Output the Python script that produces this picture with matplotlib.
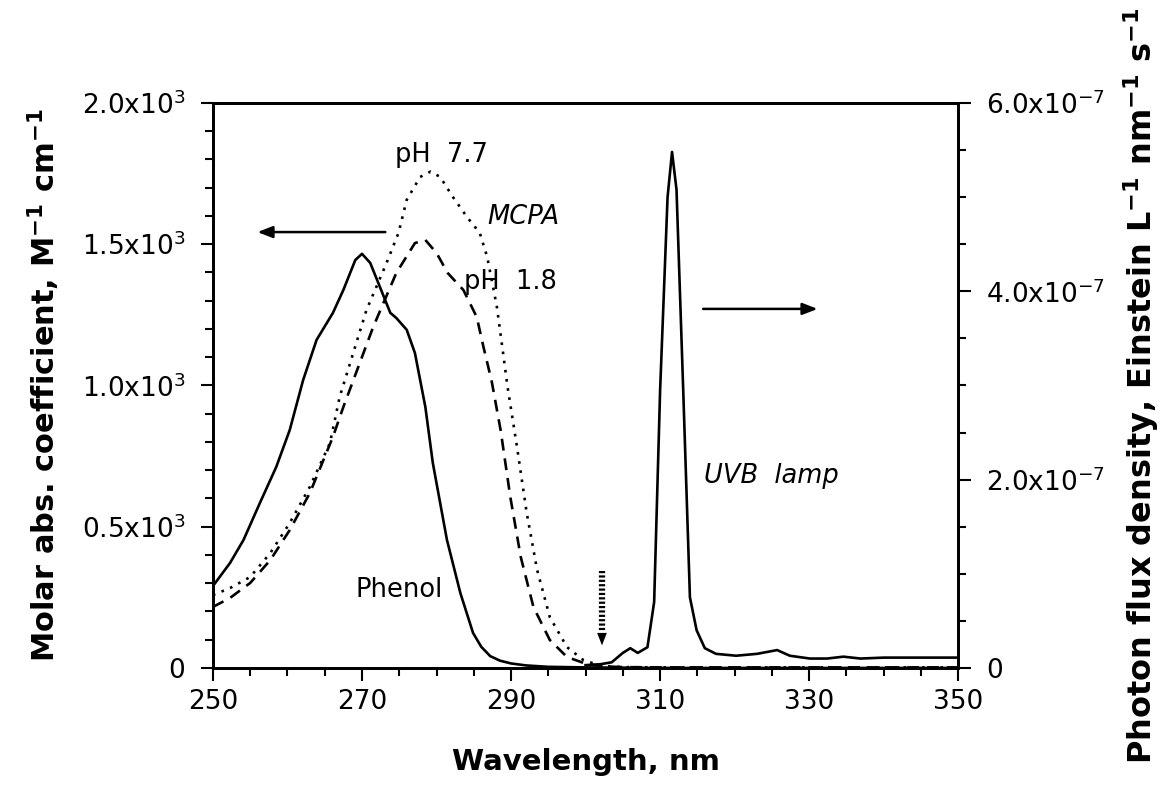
import matplotlib.pyplot as plt
from matplotlib.ticker import MultipleLocator

plt.rcParams['font.family'] = ['DejaVu Sans']

# Phenol (solid), molar absorption coefficient, M-1 cm-1
phenol_nm = [250, 252.3, 254.1, 256.3, 258.5, 260.3, 262.1, 263.9, 266.1, 267.5, 269.1,
             270, 271.1, 272.4, 273.8, 274.6, 276, 277.1, 278.5, 279.5, 281.4, 283.2,
             284.9, 286, 287.2, 288.5, 290, 292, 295, 300, 305, 310, 320, 330, 340, 350]
phenol_eps = [290, 372, 453, 584, 712, 842, 1019, 1161, 1257, 1338, 1444,
              1466, 1434, 1349, 1257, 1239, 1197, 1115, 924, 726, 453, 265,
              124, 75, 42, 26, 16, 9, 4, 2, 1, 0, 0, 0, 0, 0]

# MCPA pH 7.7 (dotted)
mcpa77_nm = [250, 252.3, 255, 257.7, 260.3, 263, 265.7, 267, 270.6, 273.3, 274.9, 276,
             277.8, 279.2, 280.5, 282.2, 284.1, 285.8, 286.8, 288.1, 289, 289.5, 290.8,
             292.1, 293.5, 295.2, 297.5, 299.7, 302, 305, 310, 320, 330, 340, 350]
mcpa77_eps = [258, 283, 322, 407, 513, 641, 796, 959, 1267, 1434, 1540, 1657,
              1738, 1757, 1738, 1667, 1596, 1540, 1455, 1278, 1101, 1000, 782,
              549, 347, 180, 74, 28, 8, 3, 2, 2, 2, 2, 2]

# MCPA pH 1.8 (dashed)
mcpa18_nm = [250, 252.3, 255, 257.7, 260.3, 263, 266.1, 267.5, 271.5, 274.6, 277.1,
             278.5, 280, 281.5, 283.6, 285.4, 286.3, 287.4, 288.6, 289.9, 291.3, 293,
             295.2, 297.5, 299.7, 302, 305, 310, 320, 330, 340, 350]
mcpa18_eps = [216, 248, 301, 382, 488, 619, 818, 924, 1207, 1398, 1504,
              1515, 1469, 1398, 1338, 1242, 1136, 1015, 842, 605, 393, 216,
              99, 39, 18, 6, 3, 2, 2, 2, 2, 2]

# UVB lamp photon flux density, Einstein L-1 nm-1 s-1
lamp_nm = [300, 302, 303.5, 305, 306, 307, 308.3, 309.2, 310, 311, 311.6, 312.2, 313.1,
           314, 314.9, 316, 317.5, 320.2, 323, 325.7, 327.4, 330.1, 332.4, 334.6,
           336.9, 340, 345, 350]
lamp_flux = [3e-9, 4e-9, 6e-9, 1.6e-8, 2.1e-8, 1.6e-8, 2.2e-8, 7e-8, 2.95e-7, 5.0e-7,
             5.48e-7, 5.08e-7, 2.95e-7, 7.5e-8, 4.0e-8, 2.1e-8, 1.5e-8, 1.3e-8, 1.5e-8,
             1.9e-8, 1.3e-8, 1.0e-8, 1.0e-8, 1.2e-8, 1.0e-8, 1.1e-8, 1.1e-8, 1.1e-8]

left_ticks = [0, 500, 1000, 1500, 2000]
left_labels = ['0', r'$\mathregular{0.5x10^{3}}$', r'$\mathregular{1.0x10^{3}}$',
               r'$\mathregular{1.5x10^{3}}$', r'$\mathregular{2.0x10^{3}}$']
right_ticks = [0, 2e-7, 4e-7, 6e-7]
right_labels = ['0', r'$\mathregular{2.0x10^{-7}}$', r'$\mathregular{4.0x10^{-7}}$',
                r'$\mathregular{6.0x10^{-7}}$']
x_ticks = [250, 270, 290, 310, 330, 350]

fig = plt.figure(figsize=(11.7, 7.89), dpi=100)
ax = fig.add_axes([0.182, 0.1534, 0.637, 0.7161])
ax2 = ax.twinx()

lw = 1.9
ax.plot(phenol_nm, phenol_eps, color='black', lw=lw)
ax.plot(mcpa77_nm, mcpa77_eps, color='black', lw=lw, linestyle=(0, (1, 2.5)))
ax.plot(mcpa18_nm, mcpa18_eps, color='black', lw=lw, linestyle=(0, (4.5, 3)))
ax2.plot(lamp_nm, lamp_flux, color='black', lw=lw)

ax.set_xlim(250, 350)
ax.set_ylim(0, 2000)
ax2.set_ylim(0, 6e-7)

ax.set_xticks(x_ticks)
ax.xaxis.set_minor_locator(MultipleLocator(5))
ax.set_yticks(left_ticks)
ax.set_yticklabels(left_labels)
ax.yaxis.set_minor_locator(MultipleLocator(100))
ax2.set_yticks(right_ticks)
ax2.set_yticklabels(right_labels)
ax2.yaxis.set_minor_locator(MultipleLocator(0.5e-7))

for a in (ax, ax2):
    a.tick_params(which='major', length=9, width=1.5, labelsize=19, direction='out', pad=6)
    a.tick_params(which='minor', length=5.5, width=1.5, direction='out')
    for s in a.spines.values():
        s.set_linewidth(2)
ax.tick_params(axis='y', which='both', right=False)
ax.tick_params(axis='y', which='major', pad=11)
ax2.tick_params(axis='y', which='major', pad=11)

ax.set_xlabel('Wavelength, nm', labelpad=24, fontweight='bold', fontsize=21)
ax.set_ylabel(r'Molar abs. coefficient, M$^{\mathbf{-1}}$ cm$^{\mathbf{-1}}$',
              labelpad=14, fontweight='bold', fontsize=22)
ax2.set_ylabel(r'Photon flux density, Einstein L$^{\mathbf{-1}}$ nm$^{\mathbf{-1}}$ s$^{\mathbf{-1}}$',
               labelpad=12, fontweight='bold', fontsize=23)

# annotations
txt = dict(fontsize=18.5, ha='center', va='center')
ax.text(280.7, 1816, 'pH  7.7', **txt)
ax.text(291.6, 1596, 'MCPA', style='italic', **txt)
ax.text(289.9, 1366, 'pH  1.8', **txt)
ax.text(275.0, 276, 'Phenol', **txt)
ax.text(324.9, 680, 'UVB  lamp', style='italic', **txt)

arrow = dict(arrowstyle='-|>,head_length=0.9,head_width=0.35', color='black', lw=1.8)
ax.annotate('', xy=(255.6, 1543), xytext=(273.5, 1543), arrowprops=arrow)
ax.annotate('', xy=(331.5, 1271), xytext=(315.4, 1271), arrowprops=arrow)

# dotted downward marker at ~302 nm
ax.plot([302.2, 302.2], [345, 130], color='black', lw=4.5, linestyle=(0, (0.35, 0.35)))
ax.annotate('', xy=(302.2, 70), xytext=(302.2, 140),
            arrowprops=dict(arrowstyle='-|>,head_length=0.9,head_width=0.35', color='black', lw=0))

fig.savefig('out.png', dpi=100)
